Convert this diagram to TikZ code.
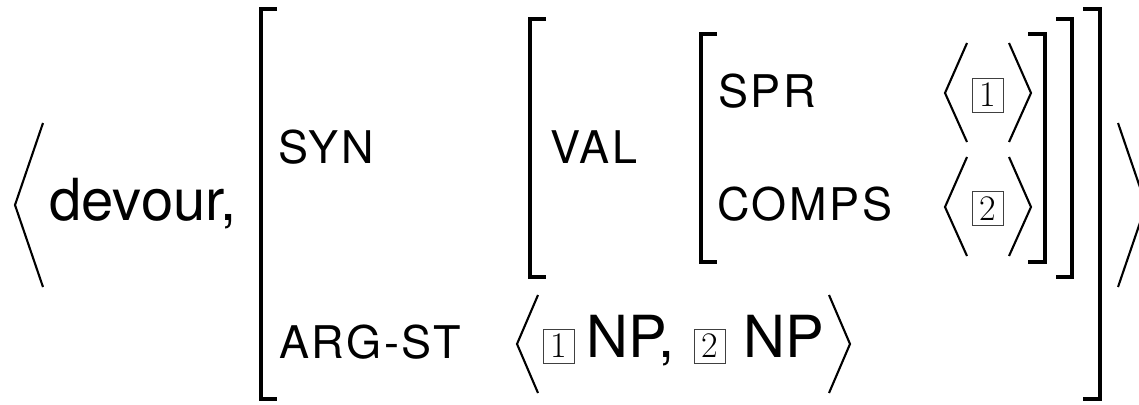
\documentclass[tikz,border=0pt]{standalone}
\usepackage{fontspec}
\newfontfamily\hv{TeX Gyre Heros}
\newfontfamily\hvls[LetterSpace=6]{TeX Gyre Heros}
\begin{document}
\begin{tikzpicture}[x=1pt,y=-1pt,
  brk/.style={line width=3.4pt,line cap=butt,line join=miter},
  ang/.style={line width=2.1pt,line cap=butt,line join=miter},
  feat/.style={anchor=base west,inner sep=0pt,font=\hvls\fontsize{45}{48}\selectfont},
  big/.style={anchor=base west,inner sep=0pt,font=\hv\fontsize{58}{62}\selectfont},
  tag/.style={draw=black!75,line width=0.9pt,inner sep=0pt,minimum width=31pt,minimum height=34pt,font=\fontsize{36}{40}\selectfont}]
\useasboundingbox (0,0) rectangle (1139,404);
\clip (0,0) rectangle (1139,404);
% outer angle brackets
\draw[ang] (43,123) -- (15,205) -- (43,287);
\draw[ang] (1118,123) -- (1146,205) -- (1118,287);
\node[big] (dev) at (49,220) {devour,};
% outer AVM brackets
\draw[brk] (277,9) -- (261,9) -- (261,399) -- (277,399);
\draw[brk] (1083,9) -- (1100,9) -- (1100,399) -- (1083,399);
\node[feat] (syn) at (278,163) {SYN};
\node[feat] (arg) at (279,358) {ARG-ST};
% SYN value
\draw[brk] (546,19) -- (530,19) -- (530,277) -- (546,277);
\draw[brk] (1056,19) -- (1072,19) -- (1072,277) -- (1056,277);
\node[feat] (val) at (550,163) {VAL};
% VAL value
\draw[brk] (717,34) -- (701,34) -- (701,262) -- (717,262);
\draw[brk] (1028,34) -- (1045,34) -- (1045,262) -- (1028,262);
\node[feat] (spr) at (718,107) {SPR};
\node[feat] (comps) at (717,220) {COMPS};
% SPR list
\draw[ang] (967,43) -- (945,93) -- (967,142);
\draw[ang] (1009,43) -- (1031,93) -- (1009,142);
\node[tag] (t1a) at (987.5,95) {1};
% COMPS list
\draw[ang] (967,157) -- (945,207) -- (967,256);
\draw[ang] (1009,157) -- (1031,207) -- (1009,256);
\node[tag] (t2a) at (987.5,208.5) {2};
% ARG-ST list
\draw[ang] (538,295) -- (517,344) -- (538,393);
\draw[ang] (829,295) -- (850,344) -- (829,393);
\node[tag] (t1b) at (558.5,346) {1};
\node[big] (np1) at (586,357) {NP,};
\node[tag] (t2b) at (710,346) {2};
\node[big] (np2) at (743,357) {NP};
\end{tikzpicture}
\end{document}
